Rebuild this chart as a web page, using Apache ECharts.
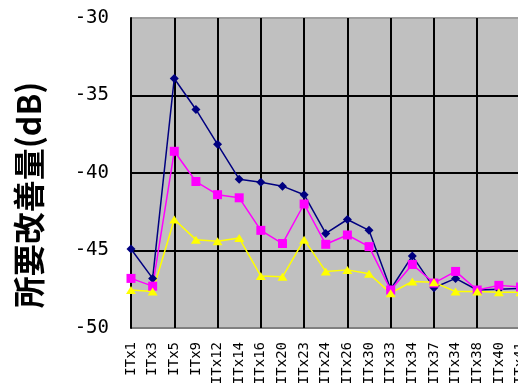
<!DOCTYPE html>
<html><head><meta charset="utf-8">
<script src="https://cdn.jsdelivr.net/npm/echarts@6/dist/echarts.min.js"></script>
<style>html,body{margin:0;padding:0;background:#fff;}#c{width:518px;height:385px;}</style>
</head><body><div id="c"></div>
<script>
const categories = ['ITx1','ITx3','ITx5','ITx9','ITx12','ITx14','ITx16','ITx20','ITx23','ITx24','ITx26','ITx30','ITx33','ITx34','ITx37','ITx34','ITx38','ITx40','ITx41'];
const seriesBlue = [-44.9,-46.8,-33.9,-35.9,-38.15,-40.4,-40.6,-40.85,-41.4,-43.9,-43.0,-43.7,-47.5,-45.35,-47.4,-46.8,-47.55,-47.5,-47.45];
const seriesMagenta = [-46.8,-47.3,-38.6,-40.55,-41.4,-41.6,-43.7,-44.55,-42.0,-44.6,-44.0,-44.75,-47.55,-45.9,-47.1,-46.35,-47.55,-47.25,-47.35];
const seriesYellow = [-47.55,-47.65,-43.0,-44.3,-44.4,-44.2,-46.65,-46.7,-44.3,-46.35,-46.25,-46.5,-47.75,-47.0,-47.05,-47.65,-47.65,-47.7,-47.7];
const yTicks = {min:-50, max:-30, interval:5};
const yName = '所要改善量(dB)';

const chart = echarts.init(document.getElementById('c'), null, {renderer:'canvas'});
function mk(data, color, symbol, size){
  return {type:'line', data:data, symbol:symbol, symbolSize:size, showSymbol:true,
    lineStyle:{color:color, width:1.5}, itemStyle:{color:color, borderWidth:0},
    animation:false, z:3};
}
chart.setOption({
  animation:false,
  grid:{left:131, top:18, width:389.5, height:310, outerBoundsMode:'none', containLabel:false,
    backgroundColor:'#c0c0c0', show:true, borderWidth:0},
  xAxis:{type:'category', data:categories, boundaryGap:false,
    axisLine:{show:false}, axisTick:{show:false},
    splitLine:{show:true, interval:function(i){return i%2===0 && i>0;}, lineStyle:{color:'#000', width:2}},
    axisLabel:{interval:0, rotate:90, margin:14, fontSize:14, fontFamily:'DejaVu Sans Mono', color:'#000'}},
  yAxis:{type:'value', min:yTicks.min, max:yTicks.max, interval:yTicks.interval,
    axisLine:{show:true, lineStyle:{color:'#000', width:2}}, axisTick:{show:false},
    splitLine:{show:true, lineStyle:{color:['#808080','#000','#000','#000','#a0a0a0'], width:2}},
    axisLabel:{margin:22, fontSize:19, fontFamily:'DejaVu Sans Mono', color:'#000'}},
  graphic:[{type:'text', x:29, y:195, rotation:Math.PI/2,
    style:{text:yName, font:'bold 32px "Noto Sans CJK JP"', fill:'#000', align:'center', verticalAlign:'middle'}}],
  series:[
    mk(seriesBlue,'#000080','diamond',9),
    mk(seriesMagenta,'#ff00ff','rect',9),
    mk(seriesYellow,'#ffff00','triangle',[10,8])
  ]
});
</script></body></html>
